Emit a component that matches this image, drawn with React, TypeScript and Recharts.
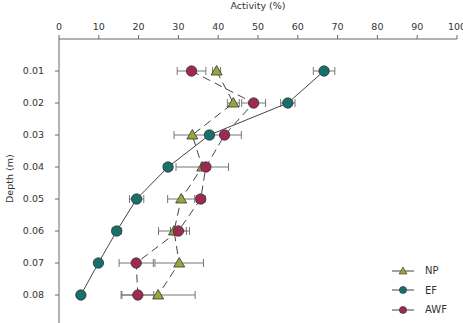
import { ScatterChart, Scatter, XAxis, YAxis, ErrorBar } from "recharts";

const depths = [0.01, 0.02, 0.03, 0.04, 0.05, 0.06, 0.07, 0.08];
const npValues = [39.6, 43.8, 33.5, 36.0, 30.7, 28.9, 30.2, 24.9];
const npErrors = [1, 1.5, 4.6, 6.6, 3.4, 3.9, 6.1, 9.3];
const efValues = [66.6, 57.5, 37.8, 27.4, 19.5, 14.5, 9.9, 5.5];
const efErrors = [2.7, 1.8, 1, 1, 1.8, 1.1, 0.8, 0.8];
const awfValues = [33.3, 48.9, 41.6, 36.9, 35.6, 30.0, 19.4, 19.8];
const awfErrors = [3.6, 3, 4.2, 1, 1.1, 2, 4.3, 4];
const xTicks = [0, 10, 20, 30, 40, 50, 60, 70, 80, 90, 100];

const NP_COLOR = "#9aa63a";
const EF_COLOR = "#17706b";
const AWF_COLOR = "#9c2a52";
const FONT = "DejaVu Sans";

const toPoints = (values: number[], errors: number[]) =>
  values.map((v, i) => ({ x: v, y: depths[i], err: errors[i] }));

const npData = toPoints(npValues, npErrors);
const efData = toPoints(efValues, efErrors);
const awfData = toPoints(awfValues, awfErrors);

const Dot = (color: string) => (props: any) => (
  <circle cx={props.cx} cy={props.cy} r={5.2} fill={color} stroke="#333" strokeWidth={0.8} />
);

const Tri = (color: string) => (props: any) => {
  const { cx, cy } = props;
  return (
    <path
      d={`M${cx},${cy - 5.5} L${cx + 5.5},${cy + 4} L${cx - 5.5},${cy + 4} Z`}
      fill={color}
      stroke="#333"
      strokeWidth={0.8}
    />
  );
};

const legendItems = [
  { name: "NP", color: NP_COLOR, tri: true },
  { name: "EF", color: EF_COLOR, tri: false },
  { name: "AWF", color: AWF_COLOR, tri: false },
];

function LegendBox() {
  return (
    <div style={{ position: "absolute", left: 391, top: 261, fontFamily: FONT, fontSize: 10, color: "#333" }}>
      {legendItems.map((it) => (
        <div key={it.name} style={{ display: "flex", alignItems: "center", height: 19.5 }}>
          <svg width={26} height={12}>
            <line x1={1} y1={6} x2={23} y2={6} stroke="#444" strokeWidth={1} />
            {it.tri ? (
              <path d="M12,2 L16,9 L8,9 Z" fill={it.color} stroke="#333" strokeWidth={0.6} />
            ) : (
              <circle cx={12} cy={6} r={3.6} fill={it.color} stroke="#333" strokeWidth={0.6} />
            )}
          </svg>
          <span style={{ marginLeft: 8 }}>{it.name}</span>
        </div>
      ))}
    </div>
  );
}

export default function App() {
  return (
    <div style={{ position: "absolute", left: 0, top: 0, width: 463, height: 323, overflow: "hidden", background: "#fff" }}>
      <ScatterChart width={463} height={330} margin={{ top: 10, right: 6, bottom: 3, left: 0 }}>
        <XAxis
          type="number"
          dataKey="x"
          orientation="top"
          domain={[0, 100]}
          ticks={xTicks}
          height={29}
          tickSize={4}
          tickMargin={5}
          interval={0}
          axisLine={{ stroke: "#666" }}
          tickLine={{ stroke: "#666" }}
          tick={{ fill: "#333", fontSize: 9.5, fontFamily: FONT }}
          label={{ value: "Activity (%)", position: "top", offset: 1, fill: "#333", fontSize: 9.5, fontFamily: FONT }}
        />
        <YAxis
          type="number"
          dataKey="y"
          domain={[0, 0.09]}
          reversed
          ticks={depths}
          width={59}
          tickSize={4}
          tickMargin={11}
          interval={0}
          tickFormatter={(v: number) => v.toFixed(2)}
          axisLine={{ stroke: "#666" }}
          tickLine={{ stroke: "#666" }}
          tick={{ fill: "#333", fontSize: 9.5, fontFamily: FONT }}
          label={{ value: "Depth (m)", angle: -90, position: "insideLeft", offset: 10, dy: 20, fill: "#333", fontSize: 9.5, fontFamily: FONT }}
        />
        <Scatter
          name="NP"
          data={npData}
          line={{ stroke: "#444", strokeWidth: 1, strokeDasharray: "8 5" }}
          shape={Tri(NP_COLOR)}
          isAnimationActive={false}
        >
          <ErrorBar dataKey="err" direction="x" width={4} stroke="#777" strokeWidth={1} />
        </Scatter>
        <Scatter
          name="EF"
          data={efData}
          line={{ stroke: "#444", strokeWidth: 1 }}
          shape={Dot(EF_COLOR)}
          isAnimationActive={false}
        >
          <ErrorBar dataKey="err" direction="x" width={4} stroke="#777" strokeWidth={1} />
        </Scatter>
        <Scatter
          name="AWF"
          data={awfData}
          line={{ stroke: "#444", strokeWidth: 1, strokeDasharray: "8 5" }}
          shape={Dot(AWF_COLOR)}
          isAnimationActive={false}
        >
          <ErrorBar dataKey="err" direction="x" width={4} stroke="#777" strokeWidth={1} />
        </Scatter>
      </ScatterChart>
      <LegendBox />
    </div>
  );
}
